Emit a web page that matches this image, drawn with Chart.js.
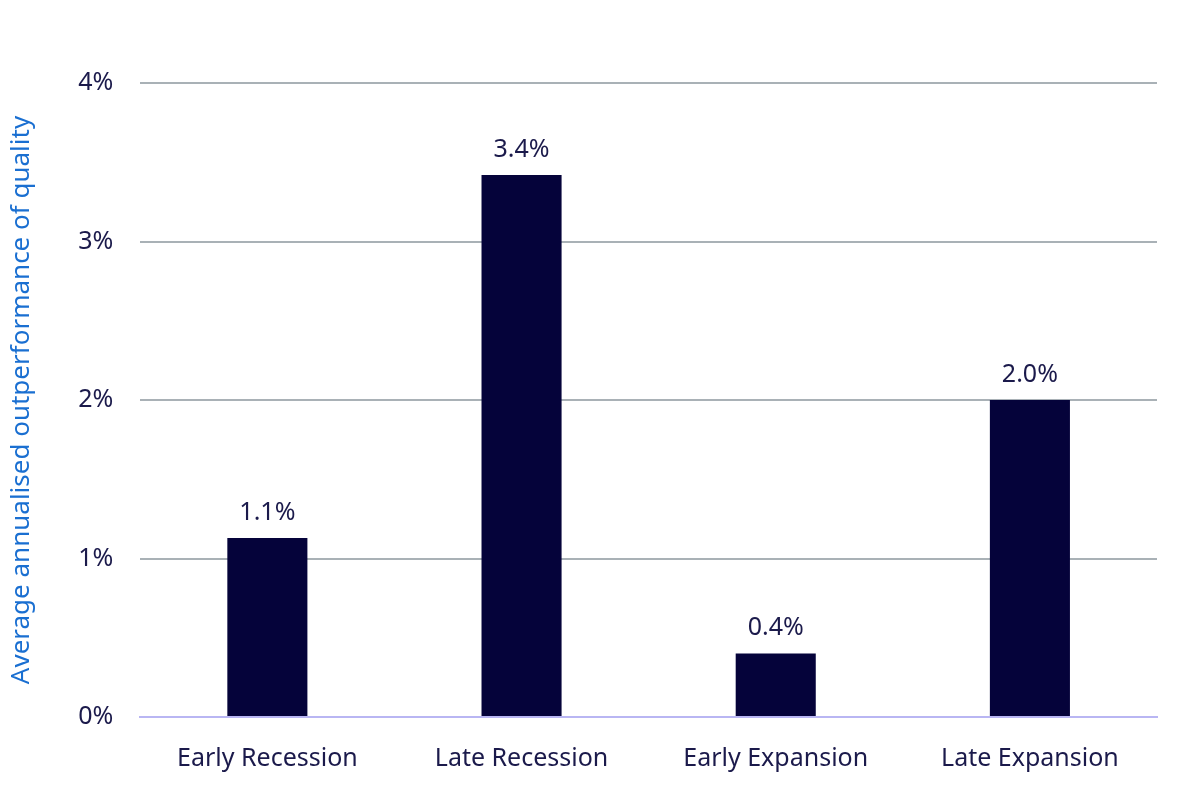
<!DOCTYPE html>
<html>
<head>
<meta charset="utf-8">
<script src="https://cdn.jsdelivr.net/npm/chart.js@4/dist/chart.umd.min.js"></script>
<style>
  html, body { margin: 0; padding: 0; background: #fff; }
  #wrap { width: 1200px; height: 799px; }
</style>
</head>
<body>
<div id="wrap"><canvas id="barChart"></canvas></div>
<script>
const categories = ['Early Recession', 'Late Recession', 'Early Expansion', 'Late Expansion']
const outperformance = [1.13, 3.42, 0.4, 2.0]
const valueLabels = ['1.1%', '3.4%', '0.4%', '2.0%']
const yTicks = [0, 1, 2, 3, 4]

const navy = '#05033a'
const textColor = '#1b1a4b'
const fontFamily = "'Noto Sans', 'Open Sans', sans-serif"

// writes the value above each bar
const barLabels = {
  id: 'barLabels',
  afterDatasetsDraw(chart) {
    const ctx = chart.ctx
    const meta = chart.getDatasetMeta(0)
    ctx.save()
    ctx.fillStyle = textColor
    ctx.font = '25px ' + fontFamily
    ctx.textAlign = 'center'
    ctx.textBaseline = 'bottom'
    meta.data.forEach((bar, i) => {
      ctx.fillText(valueLabels[i], bar.x, bar.y - 13)
    })
    ctx.restore()
  }
}

new Chart(document.getElementById('barChart'), {
  type: 'bar',
  data: {
    labels: categories,
    datasets: [{
      data: outperformance,
      backgroundColor: navy,
      barPercentage: 0.315,
      categoryPercentage: 1
    }]
  },
  options: {
    responsive: true,
    maintainAspectRatio: false,
    animation: false,
    layout: {
      padding: { top: 83, right: 43, bottom: 6, left: 6 }
    },
    plugins: {
      legend: { display: false },
      tooltip: { enabled: false }
    },
    scales: {
      x: {
        grid: { display: false },
        border: { display: true, color: '#b9b6f3', width: 2 },
        ticks: {
          color: textColor,
          font: { family: fontFamily, size: 25 },
          padding: 19
        }
      },
      y: {
        min: 0,
        max: 4,
        afterBuildTicks(scale) {
          scale.ticks = yTicks.map(v => ({ value: v }))
        },
        grid: {
          color: c => (c.tick && c.tick.value === 0 ? 'rgba(0,0,0,0)' : '#a9b1b6'),
          lineWidth: 2,
          drawTicks: false
        },
        border: { display: false },
        ticks: {
          color: textColor,
          font: { family: fontFamily, size: 25 },
          padding: 27,
          callback: v => v + '%'
        },
        title: {
          display: true,
          text: 'Average annualised outperformance of quality',
          color: '#1a6fd1',
          font: { family: fontFamily, size: 26 },
          padding: { top: 0, bottom: 14 }
        }
      }
    }
  },
  plugins: [barLabels]
})
</script>
</body>
</html>
